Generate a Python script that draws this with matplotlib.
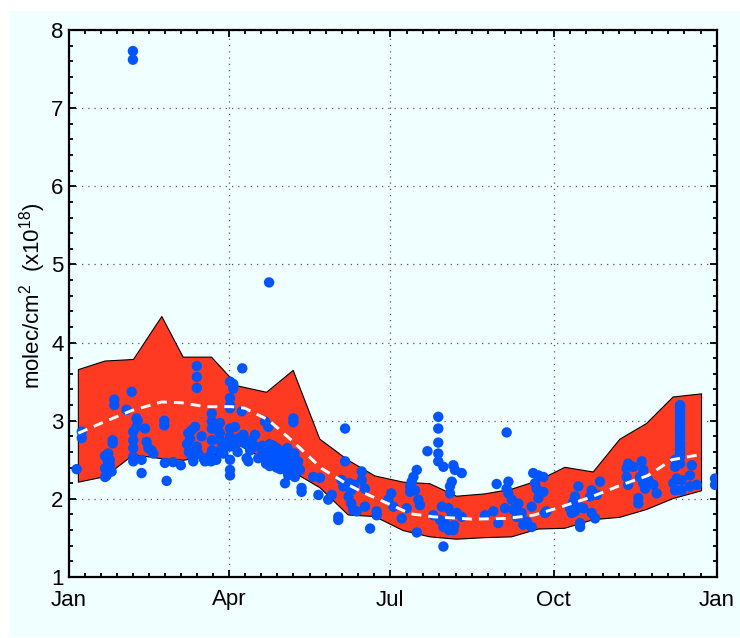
import numpy as np
import matplotlib
matplotlib.use('Agg')
import matplotlib.pyplot as plt
from matplotlib.patches import Rectangle
from matplotlib.ticker import MultipleLocator

plt.rcParams['font.family'] = ['Liberation Sans', 'DejaVu Sans']
plt.rcParams['mathtext.fontset'] = 'custom'
plt.rcParams['mathtext.rm'] = 'Liberation Sans'

# day of year for the month ticks
month_ticks = [0, 90, 181, 273, 365]
month_labels = ['Jan', 'Apr', 'Jul', 'Oct', 'Jan']

# red band (range of the climatology), half-monthly
band_day = [5, 20, 36, 52, 64, 80, 95, 111, 126, 141, 157, 172,
            188, 203, 218, 234, 249, 264, 279, 295, 310, 325, 340, 356]
band_hi = [3.66, 3.77, 3.79, 4.34, 3.82, 3.82, 3.45, 3.37, 3.65, 2.77, 2.50, 2.30,
           2.22, 2.20, 2.04, 2.07, 2.13, 2.24, 2.41, 2.35, 2.77, 2.97, 3.31, 3.35]
band_lo = [2.22, 2.29, 2.57, 2.52, 2.50, 2.55, 2.70, 2.50, 2.35, 2.15, 1.80, 1.78,
           1.60, 1.52, 1.49, 1.51, 1.52, 1.62, 1.63, 1.74, 1.77, 1.87, 2.01, 2.11]

# white dashed mean curve
mean_day = [5.2, 20.3, 35.3, 52.2, 63.5, 76.6, 91.6, 99.1, 112.3, 125.4, 142.3, 157.3,
            166.7, 183.6, 192.1, 205.2, 227.7, 246.5, 261.5, 274.7, 292.5, 311.3,
            326.3, 339.5, 356.4]
mean_val = [2.84, 2.99, 3.13, 3.24, 3.23, 3.18, 3.18, 3.16, 3.01, 2.75, 2.39, 2.18,
            2.07, 1.90, 1.81, 1.77, 1.74, 1.75, 1.79, 1.88, 2.01, 2.18,
            2.30, 2.50, 2.57]

# blue observations (day of year, value)
obs_day = [
    4.3, 7.2, 7.2,
    24.6, 24.6, 22.1, 21.2, 22.1, 20.3, 21.2, 24.0, 23.0, 20.3, 23.0, 20.3,
    25.5, 25.5, 36.0, 36.0,
    35.3, 32.4, 38.0, 38.0, 36.2, 36.2, 36.2, 36.2, 36.2, 38.7, 42.8, 40.9, 40.9,
    43.7, 44.7, 47.5, 46.5,
    53.7, 53.7, 55.0, 54.0, 58.6, 63.0,
    72.0, 72.0, 72.0,
    67.2, 68.2, 69.1, 71.0, 72.0, 72.8, 70.0, 74.7, 75.7, 76.6, 69.0, 66.5, 67.5,
    80.4, 80.4, 80.4, 85.0, 85.0, 85.0, 85.0,
    80.5, 80.5, 79.5, 80.0, 84.0, 86.5, 88.0, 83.0, 87.0,
    90.7, 90.7, 90.7, 90.7, 90.7, 90.7, 90.7, 90.7, 90.7, 90.7,
    97.6, 92.5, 92.5, 97.3, 93.5, 91.6, 93.5, 98.2, 99.1, 100.0, 101.0, 104.8, 104.8,
    106.6, 95.0, 96.0, 102.0, 103.0,
    110.4, 112.3, 112.7,
    109, 109, 109, 111, 111, 111, 111, 113, 113, 113, 113, 113, 115, 115, 115, 115,
    117, 117, 117, 117, 119, 119, 119, 119, 121, 121, 121, 123, 123, 123,
    125, 125, 125, 127, 127, 127, 129, 129,
    126.4, 126.4, 121.7, 131.0, 131.0, 123.5, 127.2, 130.0, 125.0,
    137.6, 141.4, 140.5, 146.0, 148.0,
    155.5, 155.5, 151.7, 151.7,
    153.5, 154.5, 158.0, 159.0, 157.5, 159.0, 160.0, 162.0, 160.5,
    164.9, 164.9, 166.7, 166.7, 169.6, 173.3, 173.3, 179.9, 181.5, 182.7,
    187.4, 190.2, 195.9, 194.0, 193.0, 192.1, 192.1, 194.9, 196.8, 197.7, 195.9,
    208.0, 208.0, 208.0, 208.0, 208.0, 210.9, 201.9,
    216.5, 217.4, 221.2, 215.6, 214.6, 214.6,
    205.2, 210.0, 209.0, 210.9, 213.7, 215.6, 216.5, 218.4, 221.2, 212.0, 217.0, 214.0,
    210.9,
    246.5, 240.9, 247.5, 246.5, 247.5,
    234.3, 239.0, 241.8, 245.6, 249.4, 250.3, 252.2, 253.1, 255.0, 255.9, 257.8,
    260.6, 260.6,
    261.5, 264.4, 267.2, 262.5, 263.4, 267.2, 264.4, 268.1, 265.0, 269.0,
    286.9, 285.0, 284.1, 282.2, 283.2, 285.0, 286.9, 289.7, 287.9, 287.9,
    294.4, 293.5, 295.4, 297.3, 294.4, 296.3, 299.1,
    315.0, 314.1, 314.1, 315.0, 317.9, 322.6, 323.5, 321.6, 323.5, 324.5, 320.7,
    320.7, 326.3, 329.1, 331.0,
    344.2, 344.2, 344.2, 344.2, 344.2, 344.2, 344.2, 344.2, 344.2, 344.2, 344.2,
    344.2, 344.2, 344.2, 344.2, 344.2, 344.2, 344.2, 344.2, 344.2, 344.2,
    341.4, 341.4, 342.3, 340.4, 344.2, 345.1, 345.1, 341.4,
    350.8, 349.8, 349.8, 353.6,
    363.9, 363.9,
]
obs_val = [
    2.38, 2.86, 2.78,
    2.75, 2.71, 2.58, 2.52, 2.45, 2.39, 2.30, 2.35, 2.43, 2.55, 2.50, 2.28,
    3.27, 3.20, 7.73, 7.62,
    3.37, 3.14, 3.03, 2.92, 2.86, 2.75, 2.65, 2.54, 2.48, 3.00, 2.90, 2.50, 2.33,
    2.73, 2.65, 2.58, 2.62,
    3.00, 2.94, 2.23, 2.46, 2.47, 2.43,
    3.70, 3.56, 3.42,
    2.84, 2.77, 2.88, 2.92, 2.67, 2.58, 2.48, 2.80, 2.52, 2.48, 2.55, 2.70, 2.60,
    3.09, 2.99, 2.90, 2.97, 2.84, 2.75, 2.62,
    2.75, 2.62, 2.55, 2.48, 2.87, 2.72, 2.70, 2.50, 2.58,
    3.50, 3.29, 3.20, 3.16, 2.90, 2.80, 2.67, 2.50, 2.37, 2.30,
    3.67, 3.41, 3.47, 3.12, 2.92, 2.75, 2.67, 2.82, 2.71, 2.52, 2.48, 2.82, 2.67,
    2.52, 2.60, 2.78, 2.62, 2.75,
    2.99, 2.92, 4.77,
    2.68, 2.60, 2.55, 2.66, 2.58, 2.50, 2.45, 2.70, 2.62, 2.55, 2.48, 2.42,
    2.68, 2.60, 2.52, 2.45,
    2.65, 2.58, 2.50, 2.40, 2.62, 2.55, 2.47, 2.38, 2.60, 2.52, 2.44, 2.65, 2.55, 2.35,
    2.50, 2.42, 2.33, 2.58, 2.45, 2.38, 2.48, 2.40,
    3.03, 2.98, 2.20, 2.14, 2.09, 2.30, 2.28, 2.37, 2.39,
    2.28, 2.27, 2.05, 1.99, 2.05,
    2.90, 2.48, 1.77, 1.73,
    2.24, 2.16, 2.20, 2.11, 2.03, 1.94, 1.86, 1.84, 2.18,
    2.35, 2.24, 2.13, 1.90, 1.62, 1.84, 1.79, 1.99, 2.07, 1.90,
    1.75, 1.88, 2.37, 2.28, 2.22, 2.16, 2.09, 2.11, 1.99, 1.92, 1.57,
    3.05, 2.90, 2.72, 2.58, 2.48, 2.41, 2.61,
    2.43, 2.37, 2.33, 2.22, 2.16, 2.07,
    1.79, 1.90, 1.73, 1.64, 1.88, 1.79, 1.60, 1.82, 1.77, 1.68, 1.66, 1.60,
    1.39,
    2.85, 2.19, 2.22, 2.13, 2.07,
    1.79, 1.84, 1.69, 1.88, 1.99, 1.86, 1.77, 1.94, 1.82, 1.67, 1.71,
    1.64, 1.90,
    2.33, 2.30, 2.28, 2.20, 2.13, 2.09, 2.01, 1.82, 2.07, 1.84,
    2.16, 2.03, 1.96, 1.88, 1.82, 1.84, 1.90, 1.88, 1.69, 1.64,
    2.11, 2.03, 2.07, 2.05, 1.82, 1.75, 2.22,
    2.45, 2.39, 2.28, 2.18, 2.41, 2.48, 2.37, 2.28, 2.20, 2.13, 2.01,
    1.94, 2.24, 2.18, 2.07,
    3.20, 3.18, 3.15, 3.12, 3.08, 3.05, 3.01, 2.98, 2.95, 2.92, 2.88,
    2.83, 2.80, 2.77, 2.72, 2.70, 2.67, 2.64, 2.62, 2.58, 2.54,
    2.50, 2.41, 2.26, 2.20, 2.45, 2.24, 2.11, 2.11,
    2.43, 2.30, 2.16, 2.18,
    2.26, 2.18,
]

W, H = 740, 638
fig = plt.figure(figsize=(W / 100, H / 100), dpi=100, facecolor='white')
# pale cyan figure panel
fig.patches.append(Rectangle((9 / W, 1 / H), 1, (H - 12) / H, transform=fig.transFigure,
                             facecolor='#f0ffff', edgecolor='none', zorder=-1))

ax = fig.add_axes([69 / W, (H - 577) / H, 648 / W, 547 / H])
ax.set_facecolor('#f0ffff')
ax.set_axisbelow(True)

ax.fill_between(band_day, band_lo, band_hi, facecolor='#ff3a22', edgecolor='black',
                linewidth=0.8, zorder=2)
ax.scatter(obs_day, obs_val, s=56, color='#0055ff', edgecolors='none', zorder=3)
ax.plot(mean_day, mean_val, color='white', linestyle=(0, (3.4, 2.4)), linewidth=2.1,
        zorder=4)

ax.set_xlim(0, 365)
ax.set_ylim(1, 8)
ax.set_xticks(month_ticks)
ax.set_xticklabels(month_labels)
minor_x = []
for a, b in zip(month_ticks[:-1], month_ticks[1:]):
    minor_x.extend(np.linspace(a, b, 11)[1:-1])
ax.set_xticks(minor_x, minor=True)
ax.yaxis.set_major_locator(MultipleLocator(1))
ax.yaxis.set_minor_locator(MultipleLocator(0.2))

ax.grid(True, which='major', color='0.35', linestyle=(0, (1, 4)), linewidth=0.9)
ax.tick_params(which='both', direction='in', top=True, right=True, width=1.3,
               labelsize=16, colors='black')
ax.tick_params(which='major', length=5)
ax.tick_params(axis='y', which='major', pad=4)
ax.tick_params(axis='x', which='major', pad=9)
ax.tick_params(which='minor', length=3)
for sp in ax.spines.values():
    sp.set_linewidth(1.6)

ax.set_ylabel(r'molec/cm$^\mathregular{2}$  (x10$^\mathregular{18}$)', fontsize=16)
ax.yaxis.set_label_coords(-0.032, 0.515)

fig.savefig('out.png', dpi=100, facecolor=fig.get_facecolor())
